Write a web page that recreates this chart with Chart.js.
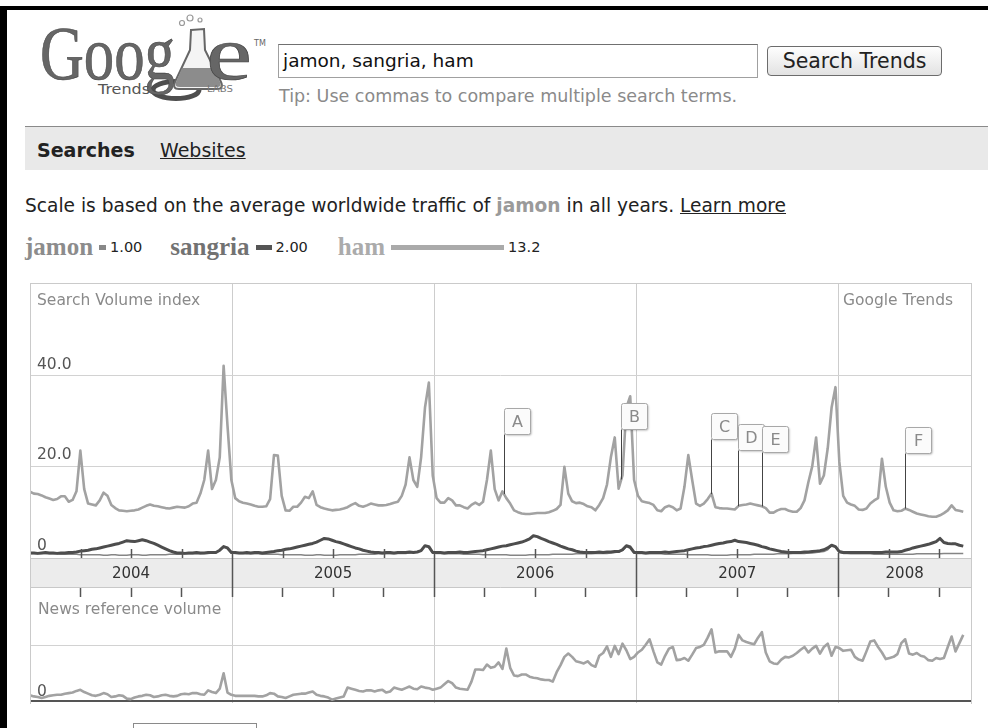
<!DOCTYPE html>
<html>
<head>
<meta charset="utf-8">
<script src="https://cdn.jsdelivr.net/npm/chart.js@4.4.1/dist/chart.umd.min.js"></script>
<style>
  body { margin: 0; width: 988px; height: 728px; overflow: hidden; background: #fff; position: relative; font-family: "DejaVu Sans", sans-serif; }
  .abs { position: absolute; }
  #frame { left: 0; top: 6px; width: 988px; height: 730px; border-left: 7px solid #000; border-top: 4px solid #000; box-sizing: border-box; }
  #query { left: 278px; top: 44px; width: 480px; height: 34px; box-sizing: border-box; border: 1px solid #a0a0a0; border-top-color: #707070; font-size: 18.5px; line-height: 32px; padding-left: 4px; color: #111; }
  #btn { left: 767px; top: 46px; width: 175px; height: 30px; box-sizing: border-box; border: 1px solid #6c6c6c; border-radius: 4px; background: linear-gradient(#fefefe, #e2e2e2); font-size: 20.5px; line-height: 28px; text-align: center; color: #222; }
  #tip { left: 279px; top: 86px; font-size: 17.5px; color: #8a8a8a; }
  #tabs { left: 25px; top: 126px; width: 963px; height: 43px; background: #e9e9e9; border-top: 1px solid #8a8a8a; }
  #tabs span { position: absolute; top: 12px; font-size: 19px; color: #222; }
  #scale { left: 25px; top: 195px; font-size: 18.6px; color: #222; white-space: nowrap; }
  #scale b { color: #9a9a9a; }
  #legend { left: 25px; top: 233px; white-space: nowrap; display: flex; align-items: center; }
  #legend .term { font-family: "Liberation Serif", serif; font-weight: bold; font-size: 25px; }
  #legend .bar { display: inline-block; margin: 0 4px 0 6px; }
  #legend .num { font-size: 14.5px; color: #222; margin-right: 18px; }
  #box { left: 30px; top: 283px; width: 942px; height: 421px; box-sizing: border-box; border: 1px solid #cacaca; border-bottom: none; pointer-events: none; z-index: 3; }
  .lab { font-size: 15.5px; color: #8a8a8a; z-index: 4; }
  canvas { position: absolute; }
</style>
</head>
<body>
<div id="frame" class="abs"></div>

<svg class="abs" style="left:30px;top:12px" width="240" height="92" viewBox="0 0 240 92">
  <ellipse cx="146" cy="78" rx="23" ry="8.5" fill="none" stroke="#4e4e4e" stroke-width="5"/>
  <text x="10" y="67" font-family="Liberation Serif" font-size="76" fill="#666" stroke="#444" stroke-width="0.6" textLength="135" lengthAdjust="spacingAndGlyphs">Goog</text>
  <path d="M161,18 L174,17 L175,38 L191,70 Q194,77 187,77 L149,77 Q142,77 145,70 L160,38 Z" fill="#f4f4f4" stroke="#666" stroke-width="2"/>
  <path d="M152,56 L184,56 L190,70 Q192,75 187,75 L150,75 Q144,75 146,70 Z" fill="#8c8c8c"/>
  <circle cx="152" cy="11" r="2.5" fill="none" stroke="#999" stroke-width="1.2"/>
  <circle cx="160" cy="6" r="3" fill="none" stroke="#999" stroke-width="1.2"/>
  <circle cx="170" cy="8" r="2" fill="none" stroke="#999" stroke-width="1.2"/>
  <text x="176" y="67" font-family="Liberation Serif" font-size="76" fill="#666" stroke="#444" stroke-width="0.6" textLength="46" lengthAdjust="spacingAndGlyphs">e</text>
  <text x="224" y="34" font-family="DejaVu Sans" font-size="8" fill="#666">TM</text>
  <text x="68" y="82" font-family="DejaVu Sans" font-size="14" fill="#555" textLength="52" lengthAdjust="spacingAndGlyphs">Trends</text>
  <text x="177" y="80" font-family="DejaVu Sans" font-size="8.5" fill="#777" textLength="26" lengthAdjust="spacingAndGlyphs">LABS</text>
</svg>

<div id="query" class="abs">jamon, sangria, ham</div>
<div id="btn" class="abs">Search Trends</div>
<div id="tip" class="abs">Tip: Use commas to compare multiple search terms.</div>

<div id="tabs" class="abs">
  <span style="left:12px;font-weight:bold">Searches</span>
  <span style="left:135px;text-decoration:underline">Websites</span>
</div>

<div id="scale" class="abs">Scale is based on the average worldwide traffic of <b>jamon</b> in all years. <u>Learn more</u></div>

<div id="legend" class="abs">
  <span class="term" style="color:#8c8c8c">jamon</span><span class="bar" style="width:7px;height:5px;background:#888"></span><span class="num">1.00</span>
  <span class="term" style="color:#727272;margin-left:10px">sangria</span><span class="bar" style="width:16px;height:5px;background:#555"></span><span class="num">2.00</span>
  <span class="term" style="color:#ababab;margin-left:12px">ham</span><span class="bar" style="width:113px;height:5px;background:#aaa"></span><span class="num">13.2</span>
</div>

<canvas id="search" width="941" height="305" style="left:30px;top:283px"></canvas>
<canvas id="news" width="941" height="115" style="left:30px;top:588px"></canvas>
<div id="box" class="abs"></div>
<div class="abs lab" style="left:37px;top:291px">Search Volume index</div>
<div class="abs lab" style="left:843px;top:291px">Google Trends</div>
<div class="abs lab" style="left:38px;top:600px">News reference volume</div>
<div class="abs" style="left:133px;top:723px;width:122px;height:20px;border:1px solid #8a8a8a"></div>

<script>
// weekly values starting with the first week of 2004
var years = ['2004', '2005', '2006', '2007', '2008'];
var weeksPerYear = 52.18;

var ham = [
  14.4,14.0,13.9,13.6,13.2,12.9,12.6,12.8,13.4,13.4,12.2,12.6,14.5,23.5,15.0,11.8,11.6,11.4,12.5,14.2,13.5,11.5,10.8,10.3,10.2,10.1,10.2,10.3,10.5,10.9,11.3,11.6,11.3,11.2,11.0,10.8,10.7,10.9,11.1,11.0,10.9,11.2,11.8,12.0,14.0,17.0,23.5,15.0,17.0,22.0,42.2,29.0,17.0,
  13.0,12.3,12.0,11.8,11.6,11.3,11.1,11.1,11.2,12.8,22.5,22.4,13.5,10.3,10.2,11.1,11.1,12.0,13.3,13.0,14.5,11.5,11.0,10.7,10.5,10.3,10.4,10.5,10.7,11.0,11.5,11.9,11.3,11.1,11.4,11.8,11.6,11.4,11.4,11.5,11.7,12.0,12.2,13.5,16.0,22.0,17.0,15.5,22.0,33.0,38.5,18.0,
  13.0,12.0,12.0,13.0,12.5,11.4,11.4,11.0,10.7,11.5,12.0,11.5,12.2,17.0,23.5,15.0,12.5,14.5,13.0,11.8,10.3,9.9,9.6,9.5,9.5,9.6,9.7,9.7,9.7,9.9,10.2,10.6,11.5,19.9,14.0,12.3,11.9,12.0,11.7,11.2,11.0,10.3,11.5,13.0,16.0,22.0,26.4,15.1,18.0,33.0,35.5,17.0,
  13.5,12.3,12.1,11.9,11.5,10.3,10.1,11.0,11.3,11.0,10.3,10.7,15.5,22.5,17.0,11.8,11.3,11.8,12.8,14.0,11.0,10.8,10.7,10.7,10.6,10.5,11.3,11.5,11.6,11.8,11.6,11.4,11.2,10.8,9.8,9.8,10.3,10.6,10.6,10.2,10.0,10.0,10.8,12.5,16.5,20.0,26.4,16.2,18.0,24.0,33.0,37.5,
  21.0,13.5,12.0,11.6,11.3,10.5,10.4,10.7,11.8,12.5,13.0,21.7,15.5,12.0,10.3,10.1,10.2,10.7,10.4,10.0,9.6,9.4,9.2,9.0,8.9,8.9,9.2,9.7,10.3,11.4,10.4,10.2,10.0
];

var sangria = [
  0.9,0.9,0.8,0.9,1.0,0.9,0.9,0.8,0.9,0.9,1.0,1.0,1.1,1.3,1.4,1.5,1.7,1.8,2.0,2.2,2.4,2.6,2.8,3.0,3.3,3.6,3.5,3.4,3.6,3.8,3.6,3.3,3.0,2.6,2.2,1.8,1.4,1.1,0.9,0.9,0.8,0.9,0.9,1.0,0.9,0.9,1.0,1.0,1.0,1.5,2.3,2.0,1.0,
  1.0,0.9,0.9,1.0,0.9,1.0,1.0,0.9,1.0,1.1,1.2,1.4,1.5,1.7,1.8,2.0,2.2,2.4,2.6,2.8,3.0,3.3,3.7,4.1,4.0,3.7,3.4,3.2,2.9,2.6,2.3,2.0,1.8,1.5,1.3,1.1,1.0,1.0,0.9,1.0,1.0,0.9,1.0,1.0,1.0,1.1,1.0,1.1,1.4,2.5,2.3,1.0,
  1.0,1.0,0.9,1.0,1.0,1.0,1.1,1.0,1.0,1.1,1.2,1.3,1.4,1.6,1.8,2.0,2.2,2.4,2.5,2.7,2.9,3.1,3.3,3.6,4.0,4.7,4.5,4.1,3.8,3.4,3.1,2.8,2.4,2.1,1.8,1.6,1.3,1.1,1.0,1.0,1.0,1.0,1.1,1.0,1.1,1.1,1.2,1.2,1.6,2.5,2.2,1.0,
  1.0,1.0,0.9,1.0,1.0,1.0,1.0,1.1,1.0,1.1,1.2,1.3,1.4,1.6,1.8,2.0,2.1,2.3,2.4,2.6,2.8,3.0,3.1,3.3,3.4,3.7,3.4,3.3,3.2,3.0,2.8,2.6,2.3,2.1,1.8,1.6,1.4,1.2,1.1,1.0,1.0,1.0,1.0,1.1,1.1,1.2,1.3,1.4,1.6,2.0,2.6,2.3,
  1.2,1.0,1.0,1.0,1.0,1.0,1.0,1.0,1.0,1.0,1.0,1.0,1.1,1.1,1.1,1.1,1.2,1.5,1.7,2.0,2.2,2.4,2.6,2.8,3.1,3.4,4.1,3.2,3.0,2.9,2.9,2.6,2.4
];

var jamon = [
  0.8,0.8,0.7,0.8,0.8,0.7,0.7,0.7,0.6,0.6,0.6,0.6,0.6,0.5,0.5,0.5,0.5,0.5,0.5,0.4,0.4,0.5,0.5,0.4,0.4,0.4,0.5,0.5,0.5,0.4,0.4,0.5,0.5,0.5,0.5,0.5,0.6,0.6,0.6,0.6,0.7,0.7,0.7,0.7,0.7,0.8,0.8,0.9,1.0,1.4,2.4,1.8,0.9,
  0.8,0.8,0.8,0.7,0.7,0.7,0.7,0.6,0.6,0.6,0.6,0.6,0.5,0.5,0.5,0.5,0.5,0.5,0.4,0.4,0.4,0.5,0.5,0.4,0.4,0.4,0.4,0.5,0.5,0.5,0.5,0.5,0.6,0.6,0.6,0.6,0.6,0.7,0.7,0.7,0.7,0.7,0.8,0.8,0.8,0.9,1.0,1.1,1.5,2.5,2.0,0.9,
  0.8,0.8,0.7,0.7,0.7,0.7,0.7,0.6,0.6,0.6,0.6,0.6,0.5,0.5,0.5,0.5,0.5,0.5,0.5,0.4,0.4,0.4,0.4,0.4,0.5,0.5,0.5,0.5,0.5,0.5,0.6,0.6,0.6,0.6,0.6,0.6,0.7,0.7,0.7,0.7,0.7,0.8,0.8,0.8,0.8,0.9,1.0,1.1,1.4,2.3,1.9,0.9,
  0.8,0.8,0.7,0.7,0.7,0.7,0.7,0.6,0.6,0.6,0.6,0.6,0.6,0.5,0.5,0.5,0.5,0.5,0.5,0.4,0.4,0.4,0.4,0.4,0.5,0.5,0.5,0.5,0.5,0.5,0.6,0.6,0.6,0.6,0.6,0.6,0.7,0.7,0.7,0.7,0.8,0.8,0.8,0.8,0.9,0.9,1.0,1.1,1.2,1.6,2.6,2.2,
  1.0,0.8,0.8,0.7,0.7,0.7,0.7,0.7,0.7,0.6,0.6,0.6,0.6,0.6,0.6,0.6,0.6,0.6,0.6,0.6,0.7,0.7,0.7,0.7,0.7,0.7,0.7,0.8,0.8,0.8,0.8,0.8,0.8
];

var hamNews = [
  0.10,0.08,0.07,0.05,0.07,0.09,0.10,0.11,0.11,0.13,0.14,0.15,0.18,0.20,0.16,0.13,0.10,0.09,0.11,0.14,0.12,0.07,0.08,0.10,0.09,0.04,0.03,0.06,0.08,0.09,0.11,0.10,0.07,0.08,0.10,0.11,0.09,0.08,0.09,0.12,0.13,0.12,0.14,0.14,0.12,0.11,0.19,0.16,0.14,0.22,0.50,0.15,0.11,
  0.09,0.09,0.09,0.09,0.09,0.09,0.08,0.08,0.10,0.14,0.13,0.08,0.07,0.05,0.08,0.11,0.12,0.13,0.13,0.15,0.17,0.11,0.09,0.08,0.06,0.02,0.04,0.06,0.08,0.24,0.22,0.20,0.18,0.17,0.19,0.19,0.17,0.19,0.20,0.15,0.17,0.24,0.22,0.20,0.23,0.26,0.22,0.21,0.26,0.24,0.23,0.20,
  0.22,0.24,0.30,0.36,0.32,0.24,0.22,0.21,0.20,0.35,0.57,0.57,0.56,0.66,0.60,0.62,0.70,0.58,0.95,0.60,0.46,0.45,0.48,0.48,0.44,0.42,0.41,0.39,0.38,0.38,0.35,0.52,0.65,0.80,0.86,0.80,0.72,0.70,0.68,0.72,0.65,0.62,0.82,0.87,0.99,0.80,1.00,0.85,1.04,0.92,0.76,0.80,
  0.88,0.93,1.02,1.12,0.90,0.70,0.66,0.82,0.95,0.98,0.74,0.75,0.78,0.73,0.84,0.96,0.98,1.02,1.15,1.30,0.88,0.90,0.90,0.90,0.80,0.95,1.20,1.10,1.07,1.05,1.03,1.15,1.25,0.88,0.72,0.68,0.67,0.75,0.80,0.79,0.82,0.87,0.93,0.98,0.88,0.95,1.00,0.86,0.98,1.04,0.82,0.98,
  0.96,0.91,0.92,0.93,0.80,0.75,0.73,0.90,1.08,1.10,0.98,0.88,0.76,0.78,0.80,0.85,1.05,1.12,0.86,0.84,0.87,0.82,0.80,0.74,0.73,0.78,0.76,0.78,0.98,1.17,0.90,1.05,1.20
];

// event flags: letter, week it points at, top of the box (index units)
var flagLabels = ['A', 'B', 'C', 'D', 'E', 'F'];
var flagWeeks = [122.4, 152.7, 175.9, 182.9, 189.1, 226.0];
var flagTops = [32.9, 34.0, 31.8, 29.4, 29.0, 28.7];

var xMax = 243;
var clear = 'rgba(0,0,0,0)';

function points(arr) {
  return arr.map(function(v, i) { return {x: i, y: v}; });
}

function quarterTicks() {
  var t = [];
  for (var k = 1; k * weeksPerYear / 4 < xMax; k++) {
    t.push({value: k * weeksPerYear / 4, kind: k % 4 === 0 ? 'year' : 'q'});
  }
  return t;
}

function bandTicks() {
  var t = quarterTicks();
  years.forEach(function(name, j) {
    var a = j * weeksPerYear, b = Math.min((j + 1) * weeksPerYear, xMax);
    t.push({value: (a + b) / 2, kind: 'label', name: name});
  });
  return t.sort(function(p, q) { return p.value - q.value; });
}

function hamAt(w) {
  var i = Math.floor(w), f = w - i;
  return ham[i] + (ham[i + 1] - ham[i]) * f;
}

// keep the plot flush with the canvas: no room reserved for tick labels
function flatX(h) {
  return function(s) { s.height = h; s.paddingLeft = 0; s.paddingRight = 0; };
}
function flatY(s) {
  s.width = 0; s.paddingTop = 0; s.paddingBottom = 0;
}

var bandPlugin = {
  id: 'band',
  beforeDraw: function(chart) {
    var ctx = chart.ctx, a = chart.chartArea;
    ctx.save();
    ctx.fillStyle = '#ececec';
    ctx.fillRect(a.left, a.bottom, a.right - a.left, 30);
    ctx.strokeStyle = '#c8c8c8';
    ctx.lineWidth = 1;
    ctx.beginPath();
    ctx.moveTo(a.left, a.bottom + 0.5); ctx.lineTo(a.right, a.bottom + 0.5);
    ctx.moveTo(a.left, a.bottom + 29.5); ctx.lineTo(a.right, a.bottom + 29.5);
    ctx.stroke();
    ctx.restore();
  },
  afterDatasetsDraw: function(chart) {
    var ctx = chart.ctx, a = chart.chartArea, x = chart.scales.x;
    ctx.save();
    ctx.strokeStyle = '#555';
    ctx.lineWidth = 1.5;
    x.ticks.forEach(function(t) {
      if (t.kind === 'label') return;
      var px = Math.round(x.getPixelForValue(t.value)) + 0.5;
      ctx.beginPath();
      ctx.moveTo(px, a.bottom - (t.kind === 'year' ? 5 : 9));
      ctx.lineTo(px, a.bottom);
      ctx.stroke();
    });
    ctx.restore();
  }
};

var flagPlugin = {
  id: 'flags',
  afterDatasetsDraw: function(chart) {
    var ctx = chart.ctx, x = chart.scales.x, y = chart.scales.y;
    flagLabels.forEach(function(lab, k) {
      var px = Math.round(x.getPixelForValue(flagWeeks[k])) + 0.5;
      var top = Math.round(y.getPixelForValue(flagTops[k])) + 0.5;
      var bottom = y.getPixelForValue(hamAt(flagWeeks[k]));
      ctx.save();
      ctx.strokeStyle = '#444';
      ctx.lineWidth = 1;
      ctx.beginPath();
      ctx.moveTo(px, top + 26);
      ctx.lineTo(px, bottom);
      ctx.stroke();
      ctx.beginPath();
      ctx.roundRect(px, top, 26, 26, 2);
      ctx.shadowColor = 'rgba(0,0,0,0.3)';
      ctx.shadowOffsetX = 1;
      ctx.shadowOffsetY = 1;
      ctx.shadowBlur = 2;
      ctx.fillStyle = '#fbfbfb';
      ctx.fill();
      ctx.shadowColor = clear;
      ctx.strokeStyle = '#a8a8a8';
      ctx.stroke();
      ctx.fillStyle = '#8a8a8a';
      ctx.font = '16px "DejaVu Sans"';
      ctx.textAlign = 'center';
      ctx.textBaseline = 'middle';
      ctx.fillText(lab, px + 13, top + 14);
      ctx.restore();
    });
  }
};

function lineSet(label, arr, color, width) {
  return {
    label: label,
    data: points(arr),
    borderColor: color,
    borderWidth: width,
    pointRadius: 0,
    tension: 0,
    borderJoinStyle: 'round',
    fill: false
  };
}

var tickFont = {family: 'DejaVu Sans', size: 15.5};

new Chart(document.getElementById('search'), {
  type: 'line',
  data: {
    datasets: [
      lineSet('ham', ham, '#a2a2a2', 2.6),
      lineSet('sangria', sangria, '#4d4d4d', 3),
      lineSet('jamon', jamon, '#858585', 1.5)
    ]
  },
  options: {
    responsive: false,
    animation: false,
    devicePixelRatio: 1,
    layout: {padding: 0, autoPadding: false},
    plugins: {legend: {display: false}, tooltip: {enabled: false}},
    scales: {
      x: {
        type: 'linear', min: 0, max: xMax, position: 'bottom',
        afterBuildTicks: function(s) { s.ticks = bandTicks(); },
        afterFit: flatX(30),
        border: {display: false},
        grid: {
          color: function(c) { return c.tick && c.tick.kind === 'year' ? '#cdcdcd' : clear; },
          tickLength: 30,
          tickWidth: 1.5,
          tickColor: function(c) { return c.tick && c.tick.kind === 'year' ? '#555' : clear; }
        },
        ticks: {
          autoSkip: false, maxRotation: 0, padding: -23, color: '#333',
          font: {family: 'DejaVu Sans', size: 15},
          callback: function(v, i, t) { return t[i].kind === 'label' ? t[i].name : ''; }
        }
      },
      y: {
        min: -0.22, max: 60.5,
        afterBuildTicks: function(s) { s.ticks = [{value: 0}, {value: 20}, {value: 40}]; },
        afterFit: flatY,
        border: {display: false},
        grid: {
          drawTicks: false,
          color: function(c) { return c.tick && c.tick.value === 0 ? clear : '#d2d2d2'; }
        },
        ticks: {
          mirror: true, padding: 7, labelOffset: -11, color: '#555', font: tickFont,
          callback: function(v) { return v === 0 ? '0' : v.toFixed(1); }
        }
      }
    }
  },
  plugins: [bandPlugin, flagPlugin]
});

new Chart(document.getElementById('news'), {
  type: 'line',
  data: {
    datasets: [lineSet('ham', hamNews, '#a2a2a2', 2.6)]
  },
  options: {
    responsive: false,
    animation: false,
    devicePixelRatio: 1,
    layout: {padding: 0, autoPadding: false},
    plugins: {legend: {display: false}, tooltip: {enabled: false}},
    scales: {
      x: {
        type: 'linear', min: 0, max: xMax, position: 'top',
        afterBuildTicks: function(s) { s.ticks = quarterTicks(); },
        afterFit: flatX(9),
        border: {display: false},
        grid: {
          color: function(c) { return c.tick && c.tick.kind === 'year' ? '#cdcdcd' : clear; },
          tickLength: 9,
          tickWidth: 1.5,
          tickColor: '#555'
        },
        ticks: {display: false}
      },
      y: {
        min: -0.04, max: 1.89,
        afterBuildTicks: function(s) { s.ticks = [{value: 0}, {value: 1}]; },
        afterFit: flatY,
        border: {display: false},
        grid: {
          drawTicks: false,
          color: function(c) { return c.tick && c.tick.value === 0 ? '#555' : '#d2d2d2'; },
          lineWidth: function(c) { return c.tick && c.tick.value === 0 ? 2 : 1; }
        },
        ticks: {
          mirror: true, padding: 7, labelOffset: -9, color: '#555', font: tickFont,
          callback: function(v) { return v === 0 ? '0' : ''; }
        }
      }
    }
  }
});
</script>
</body>
</html>
